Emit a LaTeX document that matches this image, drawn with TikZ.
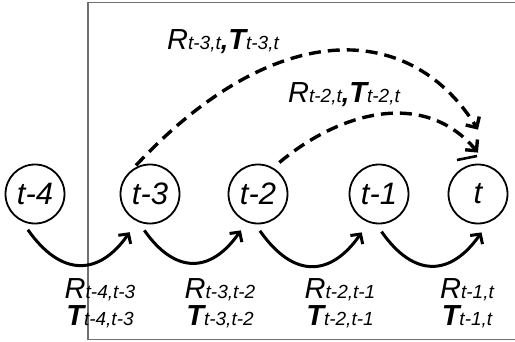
\documentclass[tikz,border=0pt]{standalone}
\usepackage{fontspec}
\setmainfont{Liberation Sans}
\usetikzlibrary{arrows.meta,positioning}
\definecolor{framegray}{RGB}{112,112,112}
\newcommand{\relpose}[2]{{\fontsize{29}{28}\selectfont #1}{\fontsize{19}{24}\selectfont #2}}
\begin{document}
\begin{tikzpicture}[x=1pt,y=1pt,
                    state node/.style={circle,draw,line width=1.8pt,minimum size=59pt,inner sep=0pt,
                                       font=\fontsize{31}{36}\selectfont\itshape},
                    pose label/.style={align=center,anchor=north,inner sep=0pt,
                                       font=\fontsize{27}{27}\selectfont\itshape},
                    motion arc/.style={line width=3pt,-{Straight Barb[length=7pt,width=15pt]}},
                    jump arc/.style={line width=3.4pt,dash pattern=on 12pt off 7pt,
                                     -{Straight Barb[length=8pt,width=16pt]}}
                   ]
  \useasboundingbox (0,0) rectangle (515,341);
  \draw[framegray,line width=1.6pt] (516,338.5) -- (88,338.5) -- (88,1.5) -- (516,1.5);

  \node[state node] (t4) at (35,147) {t-4};
  \node[state node] (t3) at (150,147) {t-3};
  \node[state node] (t2) at (258,147) {t-2};
  \node[state node] (t1) at (379,147) {t-1};
  \node[state node] (t0) at (478,147) {t};

  \coordinate[above=34pt of t0] (tipA);
  \coordinate[above=11pt of t0] (tipB);

  % one step ahead
  \path[motion arc]
   (t4.-115) edge[out=-55,in=-125,looseness=1.5,shorten <=10pt,shorten >=13pt] (t3.-115)
   (t3.-112) edge[out=-55,in=-125,looseness=1.5,shorten <=10pt,shorten >=10pt] (t2.-112)
   (t2.-95)  edge[out=-55,in=-125,looseness=1.5,shorten <=8pt,shorten >=12pt] (t1.-110)
   (t1.-95)  edge[out=-55,in=-125,looseness=1.5,shorten <=9pt,shorten >=12pt] (t0.-70);

  % jumps to t
  \draw[jump arc,shorten <=5pt] (t3.125) .. controls +(47:204) and +(122:132) .. (tipA);
  \draw[jump arc,shorten <=8pt] (t2.60) .. controls +(40:86) and +(130:84) .. (tipB);
  \draw[line width=2.6pt] (457,181) -- (477,185);

  \node[pose label] (p43) at (100,63) {\relpose{R}{t-4,t-3}\\\relpose{\bfseries T}{t-4,t-3}};
  \node[pose label] (p32) at (220,63) {\relpose{R}{t-3,t-2}\\\relpose{\bfseries T}{t-3,t-2}};
  \node[pose label] (p21) at (340,63) {\relpose{R}{t-2,t-1}\\\relpose{\bfseries T}{t-2,t-1}};
  \node[pose label] (p10) at (467,63) {\relpose{R}{t-1,t}\\\relpose{\bfseries T}{t-1,t}};

  \node[pose label,anchor=base] (p30) at (223,291) {\relpose{R}{t-3,t}{\bfseries,}\relpose{\bfseries T}{t-3,t}};
  \node[pose label,anchor=base] (p20) at (344,239) {\relpose{R}{t-2,t}{\bfseries,}\relpose{\bfseries T}{t-2,t}};
\end{tikzpicture}
\end{document}
